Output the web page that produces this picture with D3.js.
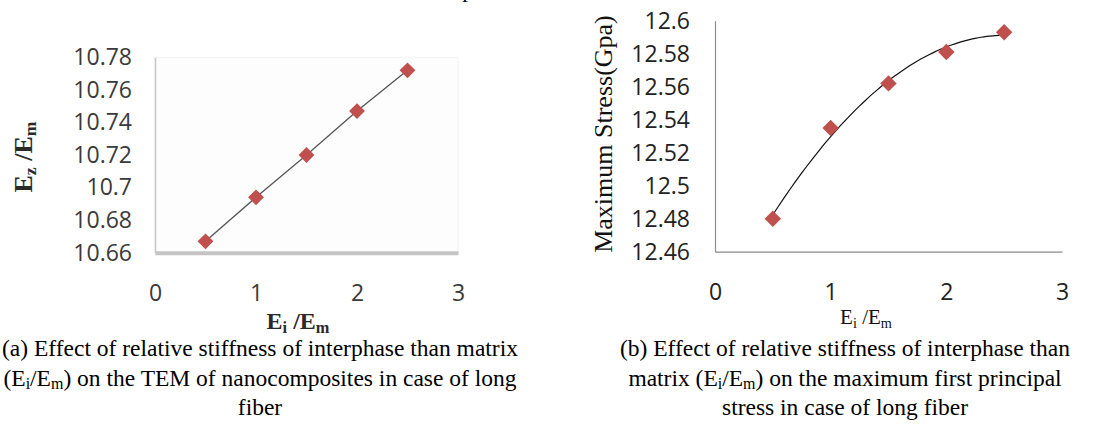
<!DOCTYPE html>
<html>
<head>
<meta charset="utf-8">
<script src="https://cdn.jsdelivr.net/npm/d3@7"></script>
<style>
  body { margin: 0; background: #fff; }
  svg { display: block; }
  .tick text { font-family: "Open Sans", sans-serif; font-size: 23px; }
</style>
</head>
<body>
<div id="chart"></div>
<script>
// data
var ratio = [0.5, 1, 1.5, 2, 2.5];                         // Ei/Em
var modulus = [10.667, 10.694, 10.720, 10.747, 10.772];    // left panel, Ez/Em
var stress = [12.480, 12.535, 12.562, 12.581, 12.593];     // right panel, Gpa
var xTicks = [0, 1, 2, 3];
var leftTicks = [10.66, 10.68, 10.70, 10.72, 10.74, 10.76, 10.78];
var leftTickLabels = ["10.66", "10.68", "10.7", "10.72", "10.74", "10.76", "10.78"];
var rightTicks = [12.46, 12.48, 12.50, 12.52, 12.54, 12.56, 12.58, 12.60];
var rightTickLabels = ["12.46", "12.48", "12.5", "12.52", "12.54", "12.56", "12.58", "12.6"];
var captionA = ["(a) Effect of relative stiffness of interphase than matrix",
  "(E|i|/E|m|) on the TEM of nanocomposites in case of long", "fiber"];
var captionB = ["(b) Effect of relative stiffness of interphase than",
  "matrix (E|i|/E|m|) on the maximum first principal", "stress in case of long fiber"];

var width = 1112, height = 431;
var markerColor = "#c0504d";
var serif = "'Liberation Serif', 'Times New Roman', serif";

var svg = d3.select("#chart").append("svg")
  .attr("width", width)
  .attr("height", height);

// write text where pieces between | | are subscripts
function richText(sel, str) {
  var parts = str.split("|");
  parts.forEach(function(p, i) {
    if (!p) return;
    var sub = i % 2 === 1;
    sel.append("tspan")
      .attr("font-size", sub ? "0.68em" : null)
      .attr("dy", sub ? "0.25em" : (i > 0 ? "-0.17em" : null))
      .text(p);
  });
}

// quadratic least-squares trendline (like the spreadsheet's poly trendline)
function polyFit2(xs, ys) {
  var n = xs.length, sx = 0, sx2 = 0, sx3 = 0, sx4 = 0, sy = 0, sxy = 0, sx2y = 0;
  xs.forEach(function(x, i) {
    var y = ys[i];
    sx += x; sx2 += x * x; sx3 += x * x * x; sx4 += x * x * x * x;
    sy += y; sxy += x * y; sx2y += x * x * y;
  });
  // solve 3x3 by Cramer
  var m = [[n, sx, sx2], [sx, sx2, sx3], [sx2, sx3, sx4]], r = [sy, sxy, sx2y];
  function det(a) {
    return a[0][0] * (a[1][1] * a[2][2] - a[1][2] * a[2][1])
      - a[0][1] * (a[1][0] * a[2][2] - a[1][2] * a[2][0])
      + a[0][2] * (a[1][0] * a[2][1] - a[1][1] * a[2][0]);
  }
  var D = det(m);
  var c = [0, 1, 2].map(function(k) {
    var mk = m.map(function(row, i) { return row.map(function(v, j) { return j === k ? r[i] : v; }); });
    return det(mk) / D;
  });
  return function(x) { return c[0] + c[1] * x + c[2] * x * x; };
}

// ---------------- left panel ----------------
var xL = d3.scaleLinear().domain([0, 3]).range([155, 458]);
var yL = d3.scaleLinear().domain([10.66, 10.78]).range([252.7, 57.3]);

var left = svg.append("g");

left.append("rect")
  .attr("x", xL(0)).attr("y", yL(10.78))
  .attr("width", xL(3) - xL(0)).attr("height", yL(10.66) - yL(10.78))
  .attr("fill", "#fdfdfd")
  .attr("stroke", "#f2f2f2");

var yAxisL = left.append("g")
  .attr("transform", `translate(${xL(0)},0)`)
  .call(d3.axisLeft(yL).tickValues(leftTicks).tickSize(0).tickSizeOuter(0).tickPadding(23)
    .tickFormat(function(d, i) { return leftTickLabels[i]; }));
yAxisL.select(".domain").attr("stroke", "#c8c8c8").attr("stroke-width", 1.5);
yAxisL.selectAll("text").attr("fill", "#3a3a3a");

var xAxisL = left.append("g")
  .attr("transform", `translate(0,${yL(10.66)})`)
  .call(d3.axisBottom(xL).tickValues(xTicks).tickFormat(d3.format("d"))
    .tickSize(0).tickSizeOuter(0).tickPadding(32));
xAxisL.select(".domain").attr("stroke", "#c4c4c4").attr("stroke-width", 4);
xAxisL.selectAll("text").attr("fill", "#3a3a3a");

left.append("path")
  .datum(ratio)
  .attr("fill", "none")
  .attr("stroke", "#555")
  .attr("stroke-width", 1.3)
  .attr("d", d3.line().x(d => xL(d)).y((d, i) => yL(modulus[i])));

left.selectAll(".mk")
  .data(ratio)
  .enter()
  .append("path")
  .attr("d", d3.symbol(d3.symbolSquare, 125))
  .attr("transform", (d, i) => `translate(${xL(d)},${yL(modulus[i])}) rotate(45)`)
  .attr("fill", markerColor);

// axis titles, left
left.append("text")
  .attr("transform", "translate(32,157) rotate(-90)")
  .attr("text-anchor", "middle")
  .attr("font-family", serif)
  .attr("font-weight", "bold")
  .attr("font-size", 26)
  .attr("fill", "#2a2a2a")
  .call(richText, "E|z| /E|m|");

left.append("text")
  .attr("x", 298).attr("y", 329)
  .attr("text-anchor", "middle")
  .attr("font-family", serif)
  .attr("font-weight", "bold")
  .attr("font-size", 24)
  .attr("fill", "#2a2a2a")
  .call(richText, "E|i| /E|m|");

// ---------------- right panel ----------------
var xR = d3.scaleLinear().domain([0, 3]).range([715, 1062]);
var yR = d3.scaleLinear().domain([12.46, 12.6]).range([251.7, 20.7]);

var right = svg.append("g");

var yAxisR = right.append("g")
  .attr("transform", `translate(${xR(0)},0)`)
  .call(d3.axisLeft(yR).tickValues(rightTicks).tickSize(0).tickSizeOuter(0).tickPadding(25)
    .tickFormat(function(d, i) { return rightTickLabels[i]; }));
yAxisR.select(".domain").attr("stroke", "#8c8c8c").attr("stroke-width", 1.2);
yAxisR.selectAll("text").attr("fill", "#222");

var xAxisR = right.append("g")
  .attr("transform", `translate(0,${yR(12.46)})`)
  .call(d3.axisBottom(xR).tickValues(xTicks).tickFormat(d3.format("d"))
    .tickSize(0).tickSizeOuter(0).tickPadding(32));
xAxisR.select(".domain").attr("stroke", "#8c8c8c").attr("stroke-width", 1.2);
xAxisR.selectAll("text").attr("fill", "#222");

var trend = polyFit2(ratio, stress);
var xs = d3.range(ratio[0], ratio[ratio.length - 1] + 0.001, 0.05);
right.append("path")
  .datum(xs)
  .attr("fill", "none")
  .attr("stroke", "#111")
  .attr("stroke-width", 1.2)
  .attr("d", d3.line().x(d => xR(d)).y(d => yR(trend(d))).curve(d3.curveMonotoneX));

right.selectAll(".mk")
  .data(ratio)
  .enter()
  .append("path")
  .attr("d", d3.symbol(d3.symbolSquare, 135))
  .attr("transform", (d, i) => `translate(${xR(d)},${yR(stress[i])}) rotate(45)`)
  .attr("fill", markerColor);

right.append("text")
  .attr("transform", "translate(612,134) rotate(-90)")
  .attr("text-anchor", "middle")
  .attr("font-family", serif)
  .attr("font-size", 26)
  .attr("fill", "#111")
  .text("Maximum Stress(Gpa)");

right.append("text")
  .attr("x", 866).attr("y", 324)
  .attr("text-anchor", "middle")
  .attr("font-family", serif)
  .attr("font-size", 21)
  .attr("fill", "#111")
  .call(richText, "E|i| /E|m|");

// cut-off text fragment at the very top, as in the source figure
svg.append("text")
  .attr("x", 468).attr("y", -3)
  .attr("text-anchor", "middle")
  .attr("font-family", serif)
  .attr("font-size", 23)
  .text("p");

// ---------------- captions ----------------
function caption(lines, cx) {
  lines.forEach(function(line, i) {
    svg.append("text")
      .attr("x", cx)
      .attr("y", 356 + i * 29.5)
      .attr("text-anchor", "middle")
      .attr("font-family", serif)
      .attr("font-size", 23.5)
      .attr("fill", "#000")
      .call(richText, line);
  });
}
caption(captionA, 260);
caption(captionB, 845);
</script>
</body>
</html>
